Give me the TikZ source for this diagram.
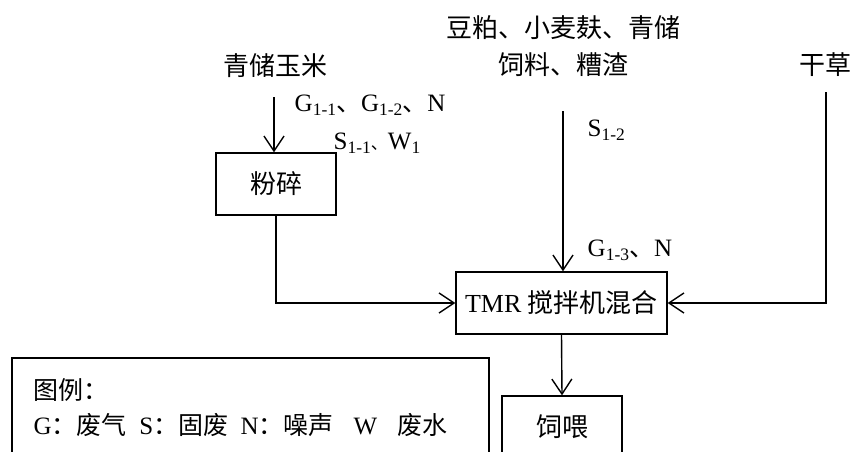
\documentclass[tikz,border=0pt]{standalone}
\usepackage{fontspec}
\setmainfont{Liberation Serif}
\newfontfamily\cjk{Noto Sans CJK SC}
\usetikzlibrary{arrows.meta}
\newcommand\zh[1]{{\cjk #1}}
\newcommand\sbs[1]{\raisebox{-0.35ex}{\fontsize{17.5}{17.5}\selectfont #1}}

\begin{document}
\begin{tikzpicture}[x=1pt,y=-1pt,line width=1.4pt,
  box/.style={draw,line width=1.4pt,inner sep=0pt},
  txt/.style={inner sep=0pt,font=\fontsize{26}{26}\selectfont},
  lbl/.style={anchor=west,inner sep=0pt,font=\fontsize{25}{25}\selectfont},
  flow/.style={-{Straight Barb[length=15pt,width=20pt,line width=1.4pt]}}]
\useasboundingbox (0,0) rectangle (854,452);
\clip (0,0) rectangle (854,452);

% raw materials
\node[txt] (corn) at (275,66) {\zh{青储玉米}};
\node[txt] (mealA) at (563,28) {\zh{豆粕、小麦麸、青储}};
\node[txt] (mealB) at (563,65) {\zh{饲料、糟渣}};
\node[txt] (hay) at (825,65) {\zh{干草}};

% process boxes
\node[box,txt,minimum width=120,minimum height=62] (crush) at (276,184) {\zh{粉碎}};
\node[box,txt,minimum width=211,minimum height=62] (mix) at (561.5,303) {TMR \zh{搅拌机混合}};
\node[box,txt,minimum width=120,minimum height=62] (feed) at (562,427) {\zh{饲喂}};
\node[box,minimum width=477,minimum height=110] (legend) at (250.5,413) {};

% flows
\coordinate (c1) at (274,97);
\coordinate (c2) at (563,111);
\coordinate (c3) at (826,92);
\draw[flow] (c1) -- (c1 |- crush.north);
\draw[flow] (crush.south) |- (mix.west);
\draw[flow] (c2) -- (c2 |- mix.north);
\draw[flow] (c3) |- (mix.east);
\draw[flow] (mix.south) -- (feed.north);

% pollutant labels
\node[lbl] (g1) at (294,105) {G\sbs{1-1}\zh{、}G\sbs{1-2}\zh{、}N};
\node[lbl] (s1) at (333,143) {S\sbs{1-1}{\fontsize{17}{17}\selectfont\zh{、}}W\sbs{1}};
\node[lbl] (s2) at (587,130) {S\sbs{1-2}};
\node[lbl] (g3) at (587,250) {G\sbs{1-3}\zh{、}N};

% legend
\node[lbl] (lgA) at (33,390) {\zh{图例：}};
\node[lbl] (lgB) at (33,425) {G\zh{：废气}\hspace{0.5em}S\zh{：固废}\hspace{0.5em}N\zh{：噪声}\hspace{0.8em}W\hspace{0.8em}\zh{废水}};
\end{tikzpicture}
\end{document}
